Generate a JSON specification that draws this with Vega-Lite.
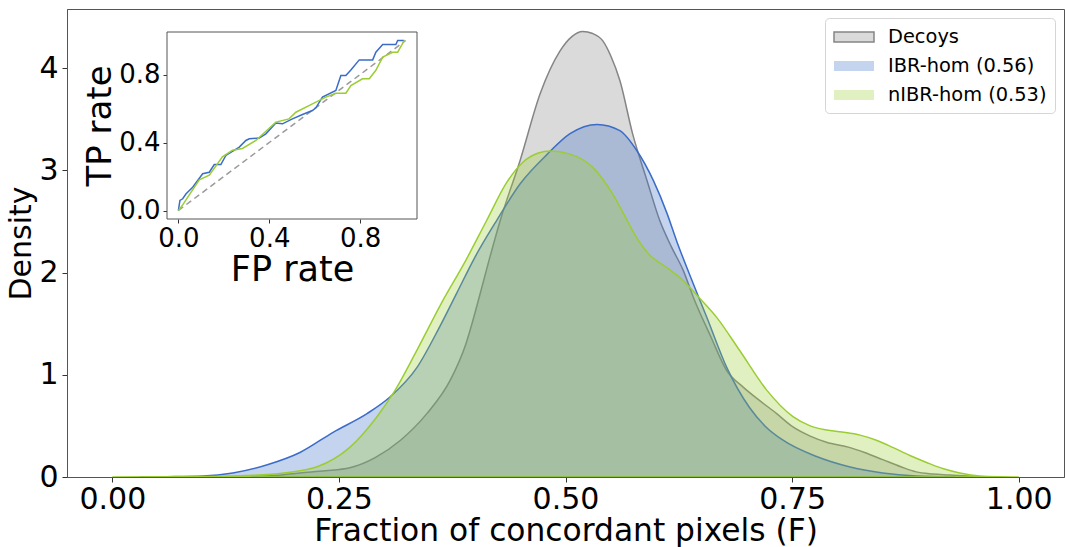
{
  "$schema": "https://vega.github.io/schema/vega-lite/v6.json",
  "width": 997,
  "height": 468,
  "autosize": {"type": "none"},
  "padding": {"left": 67, "top": 9, "right": 1, "bottom": 70},
  "background": "white",
  "config": {
    "view": {"stroke": "#555", "strokeWidth": 1},
    "font": "DejaVu Sans",
    "axis": {"labelFont": "DejaVu Sans", "titleFont": "DejaVu Sans", "grid": false, "labelColor": "black", "titleColor": "black", "titleFontWeight": "normal", "domainColor": "#555", "tickColor": "#333"}
  },
  "datasets": {
    "kde": [
      {"F": 0.10, "density": 0.0, "series": "Decoys"},
      {"F": 0.15, "density": 0.005, "series": "Decoys"},
      {"F": 0.18, "density": 0.015, "series": "Decoys"},
      {"F": 0.207, "density": 0.04, "series": "Decoys"},
      {"F": 0.235, "density": 0.06, "series": "Decoys"},
      {"F": 0.262, "density": 0.09, "series": "Decoys"},
      {"F": 0.29, "density": 0.19, "series": "Decoys"},
      {"F": 0.318, "density": 0.36, "series": "Decoys"},
      {"F": 0.347, "density": 0.62, "series": "Decoys"},
      {"F": 0.373, "density": 0.95, "series": "Decoys"},
      {"F": 0.39, "density": 1.3, "series": "Decoys"},
      {"F": 0.403, "density": 1.7, "series": "Decoys"},
      {"F": 0.415, "density": 2.1, "series": "Decoys"},
      {"F": 0.428, "density": 2.51, "series": "Decoys"},
      {"F": 0.45, "density": 3.1, "series": "Decoys"},
      {"F": 0.472, "density": 3.75, "series": "Decoys"},
      {"F": 0.494, "density": 4.17, "series": "Decoys"},
      {"F": 0.507, "density": 4.31, "series": "Decoys"},
      {"F": 0.519, "density": 4.36, "series": "Decoys"},
      {"F": 0.53, "density": 4.34, "series": "Decoys"},
      {"F": 0.541, "density": 4.27, "series": "Decoys"},
      {"F": 0.55, "density": 4.12, "series": "Decoys"},
      {"F": 0.56, "density": 3.88, "series": "Decoys"},
      {"F": 0.574, "density": 3.36, "series": "Decoys"},
      {"F": 0.59, "density": 2.9, "series": "Decoys"},
      {"F": 0.604, "density": 2.51, "series": "Decoys"},
      {"F": 0.617, "density": 2.25, "series": "Decoys"},
      {"F": 0.63, "density": 2.02, "series": "Decoys"},
      {"F": 0.641, "density": 1.76, "series": "Decoys"},
      {"F": 0.66, "density": 1.38, "series": "Decoys"},
      {"F": 0.678, "density": 1.04, "series": "Decoys"},
      {"F": 0.696, "density": 0.88, "series": "Decoys"},
      {"F": 0.714, "density": 0.75, "series": "Decoys"},
      {"F": 0.733, "density": 0.62, "series": "Decoys"},
      {"F": 0.751, "density": 0.49, "series": "Decoys"},
      {"F": 0.77, "density": 0.4, "series": "Decoys"},
      {"F": 0.788, "density": 0.34, "series": "Decoys"},
      {"F": 0.813, "density": 0.29, "series": "Decoys"},
      {"F": 0.83, "density": 0.24, "series": "Decoys"},
      {"F": 0.85, "density": 0.17, "series": "Decoys"},
      {"F": 0.87, "density": 0.1, "series": "Decoys"},
      {"F": 0.887, "density": 0.05, "series": "Decoys"},
      {"F": 0.905, "density": 0.03, "series": "Decoys"},
      {"F": 0.924, "density": 0.02, "series": "Decoys"},
      {"F": 0.95, "density": 0.005, "series": "Decoys"},
      {"F": 0.98, "density": 0.0, "series": "Decoys"},
      {"F": 0.03, "density": 0.0, "series": "IBR-hom (0.56)"},
      {"F": 0.06, "density": 0.003, "series": "IBR-hom (0.56)"},
      {"F": 0.1, "density": 0.01, "series": "IBR-hom (0.56)"},
      {"F": 0.133, "density": 0.04, "series": "IBR-hom (0.56)"},
      {"F": 0.171, "density": 0.12, "series": "IBR-hom (0.56)"},
      {"F": 0.207, "density": 0.24, "series": "IBR-hom (0.56)"},
      {"F": 0.244, "density": 0.44, "series": "IBR-hom (0.56)"},
      {"F": 0.281, "density": 0.62, "series": "IBR-hom (0.56)"},
      {"F": 0.306, "density": 0.78, "series": "IBR-hom (0.56)"},
      {"F": 0.336, "density": 1.07, "series": "IBR-hom (0.56)"},
      {"F": 0.36, "density": 1.45, "series": "IBR-hom (0.56)"},
      {"F": 0.38, "density": 1.8, "series": "IBR-hom (0.56)"},
      {"F": 0.4, "density": 2.15, "series": "IBR-hom (0.56)"},
      {"F": 0.424, "density": 2.51, "series": "IBR-hom (0.56)"},
      {"F": 0.45, "density": 2.87, "series": "IBR-hom (0.56)"},
      {"F": 0.48, "density": 3.16, "series": "IBR-hom (0.56)"},
      {"F": 0.505, "density": 3.36, "series": "IBR-hom (0.56)"},
      {"F": 0.535, "density": 3.45, "series": "IBR-hom (0.56)"},
      {"F": 0.56, "density": 3.39, "series": "IBR-hom (0.56)"},
      {"F": 0.579, "density": 3.19, "series": "IBR-hom (0.56)"},
      {"F": 0.597, "density": 2.9, "series": "IBR-hom (0.56)"},
      {"F": 0.612, "density": 2.58, "series": "IBR-hom (0.56)"},
      {"F": 0.623, "density": 2.3, "series": "IBR-hom (0.56)"},
      {"F": 0.637, "density": 1.98, "series": "IBR-hom (0.56)"},
      {"F": 0.656, "density": 1.56, "series": "IBR-hom (0.56)"},
      {"F": 0.678, "density": 1.07, "series": "IBR-hom (0.56)"},
      {"F": 0.703, "density": 0.68, "series": "IBR-hom (0.56)"},
      {"F": 0.72, "density": 0.5, "series": "IBR-hom (0.56)"},
      {"F": 0.74, "density": 0.36, "series": "IBR-hom (0.56)"},
      {"F": 0.777, "density": 0.2, "series": "IBR-hom (0.56)"},
      {"F": 0.813, "density": 0.1, "series": "IBR-hom (0.56)"},
      {"F": 0.85, "density": 0.04, "series": "IBR-hom (0.56)"},
      {"F": 0.887, "density": 0.01, "series": "IBR-hom (0.56)"},
      {"F": 0.93, "density": 0.0, "series": "IBR-hom (0.56)"},
      {"F": 0.0, "density": 0.0, "series": "nIBR-hom (0.53)"},
      {"F": 0.05, "density": 0.002, "series": "nIBR-hom (0.53)"},
      {"F": 0.1, "density": 0.005, "series": "nIBR-hom (0.53)"},
      {"F": 0.15, "density": 0.015, "series": "nIBR-hom (0.53)"},
      {"F": 0.189, "density": 0.04, "series": "nIBR-hom (0.53)"},
      {"F": 0.226, "density": 0.1, "series": "nIBR-hom (0.53)"},
      {"F": 0.262, "density": 0.29, "series": "nIBR-hom (0.53)"},
      {"F": 0.292, "density": 0.59, "series": "nIBR-hom (0.53)"},
      {"F": 0.31, "density": 0.82, "series": "nIBR-hom (0.53)"},
      {"F": 0.336, "density": 1.24, "series": "nIBR-hom (0.53)"},
      {"F": 0.363, "density": 1.7, "series": "nIBR-hom (0.53)"},
      {"F": 0.39, "density": 2.12, "series": "nIBR-hom (0.53)"},
      {"F": 0.413, "density": 2.51, "series": "nIBR-hom (0.53)"},
      {"F": 0.435, "density": 2.88, "series": "nIBR-hom (0.53)"},
      {"F": 0.453, "density": 3.08, "series": "nIBR-hom (0.53)"},
      {"F": 0.47, "density": 3.17, "series": "nIBR-hom (0.53)"},
      {"F": 0.483, "density": 3.19, "series": "nIBR-hom (0.53)"},
      {"F": 0.505, "density": 3.16, "series": "nIBR-hom (0.53)"},
      {"F": 0.53, "density": 3.03, "series": "nIBR-hom (0.53)"},
      {"F": 0.552, "density": 2.77, "series": "nIBR-hom (0.53)"},
      {"F": 0.568, "density": 2.51, "series": "nIBR-hom (0.53)"},
      {"F": 0.58, "density": 2.32, "series": "nIBR-hom (0.53)"},
      {"F": 0.593, "density": 2.17, "series": "nIBR-hom (0.53)"},
      {"F": 0.61, "density": 2.06, "series": "nIBR-hom (0.53)"},
      {"F": 0.63, "density": 1.92, "series": "nIBR-hom (0.53)"},
      {"F": 0.648, "density": 1.75, "series": "nIBR-hom (0.53)"},
      {"F": 0.667, "density": 1.56, "series": "nIBR-hom (0.53)"},
      {"F": 0.692, "density": 1.24, "series": "nIBR-hom (0.53)"},
      {"F": 0.722, "density": 0.85, "series": "nIBR-hom (0.53)"},
      {"F": 0.751, "density": 0.59, "series": "nIBR-hom (0.53)"},
      {"F": 0.77, "density": 0.5, "series": "nIBR-hom (0.53)"},
      {"F": 0.788, "density": 0.46, "series": "nIBR-hom (0.53)"},
      {"F": 0.805, "density": 0.44, "series": "nIBR-hom (0.53)"},
      {"F": 0.825, "density": 0.41, "series": "nIBR-hom (0.53)"},
      {"F": 0.843, "density": 0.36, "series": "nIBR-hom (0.53)"},
      {"F": 0.861, "density": 0.29, "series": "nIBR-hom (0.53)"},
      {"F": 0.88, "density": 0.21, "series": "nIBR-hom (0.53)"},
      {"F": 0.899, "density": 0.14, "series": "nIBR-hom (0.53)"},
      {"F": 0.917, "density": 0.08, "series": "nIBR-hom (0.53)"},
      {"F": 0.935, "density": 0.04, "series": "nIBR-hom (0.53)"},
      {"F": 0.957, "density": 0.01, "series": "nIBR-hom (0.53)"},
      {"F": 0.98, "density": 0.002, "series": "nIBR-hom (0.53)"},
      {"F": 1.0, "density": 0.0, "series": "nIBR-hom (0.53)"}
    ],
    "roc": [
      {"fpr": 0.0, "tpr": 0.0, "series": "IBR"},
      {"fpr": 0.007, "tpr": 0.059, "series": "IBR"},
      {"fpr": 0.019, "tpr": 0.069, "series": "IBR"},
      {"fpr": 0.034, "tpr": 0.098, "series": "IBR"},
      {"fpr": 0.063, "tpr": 0.137, "series": "IBR"},
      {"fpr": 0.107, "tpr": 0.216, "series": "IBR"},
      {"fpr": 0.136, "tpr": 0.225, "series": "IBR"},
      {"fpr": 0.158, "tpr": 0.27, "series": "IBR"},
      {"fpr": 0.187, "tpr": 0.27, "series": "IBR"},
      {"fpr": 0.209, "tpr": 0.324, "series": "IBR"},
      {"fpr": 0.268, "tpr": 0.373, "series": "IBR"},
      {"fpr": 0.297, "tpr": 0.412, "series": "IBR"},
      {"fpr": 0.312, "tpr": 0.422, "series": "IBR"},
      {"fpr": 0.356, "tpr": 0.426, "series": "IBR"},
      {"fpr": 0.385, "tpr": 0.451, "series": "IBR"},
      {"fpr": 0.429, "tpr": 0.515, "series": "IBR"},
      {"fpr": 0.458, "tpr": 0.51, "series": "IBR"},
      {"fpr": 0.502, "tpr": 0.539, "series": "IBR"},
      {"fpr": 0.546, "tpr": 0.565, "series": "IBR"},
      {"fpr": 0.59, "tpr": 0.588, "series": "IBR"},
      {"fpr": 0.605, "tpr": 0.604, "series": "IBR"},
      {"fpr": 0.634, "tpr": 0.667, "series": "IBR"},
      {"fpr": 0.693, "tpr": 0.706, "series": "IBR"},
      {"fpr": 0.715, "tpr": 0.794, "series": "IBR"},
      {"fpr": 0.737, "tpr": 0.794, "series": "IBR"},
      {"fpr": 0.759, "tpr": 0.827, "series": "IBR"},
      {"fpr": 0.796, "tpr": 0.886, "series": "IBR"},
      {"fpr": 0.855, "tpr": 0.886, "series": "IBR"},
      {"fpr": 0.869, "tpr": 0.931, "series": "IBR"},
      {"fpr": 0.899, "tpr": 0.976, "series": "IBR"},
      {"fpr": 0.957, "tpr": 0.976, "series": "IBR"},
      {"fpr": 0.965, "tpr": 1.0, "series": "IBR"},
      {"fpr": 0.994, "tpr": 1.0, "series": "IBR"},
      {"fpr": 0.0, "tpr": 0.0, "series": "nIBR"},
      {"fpr": 0.019, "tpr": 0.033, "series": "nIBR"},
      {"fpr": 0.048, "tpr": 0.092, "series": "nIBR"},
      {"fpr": 0.092, "tpr": 0.18, "series": "nIBR"},
      {"fpr": 0.136, "tpr": 0.208, "series": "nIBR"},
      {"fpr": 0.194, "tpr": 0.316, "series": "nIBR"},
      {"fpr": 0.238, "tpr": 0.355, "series": "nIBR"},
      {"fpr": 0.282, "tpr": 0.365, "series": "nIBR"},
      {"fpr": 0.341, "tpr": 0.412, "series": "nIBR"},
      {"fpr": 0.429, "tpr": 0.52, "series": "nIBR"},
      {"fpr": 0.487, "tpr": 0.539, "series": "nIBR"},
      {"fpr": 0.517, "tpr": 0.578, "series": "nIBR"},
      {"fpr": 0.59, "tpr": 0.627, "series": "nIBR"},
      {"fpr": 0.649, "tpr": 0.667, "series": "nIBR"},
      {"fpr": 0.693, "tpr": 0.69, "series": "nIBR"},
      {"fpr": 0.737, "tpr": 0.69, "series": "nIBR"},
      {"fpr": 0.759, "tpr": 0.735, "series": "nIBR"},
      {"fpr": 0.81, "tpr": 0.775, "series": "nIBR"},
      {"fpr": 0.84, "tpr": 0.775, "series": "nIBR"},
      {"fpr": 0.869, "tpr": 0.825, "series": "nIBR"},
      {"fpr": 0.899, "tpr": 0.902, "series": "nIBR"},
      {"fpr": 0.943, "tpr": 0.931, "series": "nIBR"},
      {"fpr": 0.965, "tpr": 0.931, "series": "nIBR"},
      {"fpr": 0.994, "tpr": 1.0, "series": "nIBR"}
    ]
  },
  "layer": [
    {
      "data": {"name": "kde"},
      "mark": {"type": "area", "fillOpacity": 0.3, "strokeWidth": 1.5, "interpolate": "monotone"},
      "encoding": {
        "x": {"field": "F", "type": "quantitative",
          "scale": {"domain": [-0.05, 1.05], "nice": false, "zero": false},
          "axis": {"title": "Fraction of concordant pixels (F)", "values": [0, 0.25, 0.5, 0.75, 1], "format": ".2f", "labelFontSize": 30, "titleFontSize": 31.3, "tickSize": 5, "labelPadding": 2, "titlePadding": 1, "zindex": 1}},
        "y": {"field": "density", "type": "quantitative", "stack": null,
          "scale": {"domain": [0, 4.58], "nice": false, "zero": false},
          "axis": {"title": "Density", "values": [0, 1, 2, 3, 4], "labelFontSize": 30, "titleFontSize": 30, "tickSize": 5, "labelPadding": 4, "titlePadding": 2, "zindex": 1}},
        "color": {"field": "series", "type": "nominal",
          "scale": {"domain": ["Decoys", "IBR-hom (0.56)", "nIBR-hom (0.53)"], "range": ["#858585", "#3a6cc8", "#9acd32"]},
          "legend": {"title": null, "orient": "top-right", "offset": 9, "labelFont": "DejaVu Sans", "labelFontSize": 19.4, "labelColor": "black",
            "symbolType": "M-1,-0.5H3V0.5H-1Z", "symbolSize": 400, "labelOffset": 33, "rowPadding": 8, "padding": 8,
            "strokeColor": "#d5d5d5", "fillColor": "white", "cornerRadius": 4,
            "encode": {"symbols": {"update": {"fillOpacity": {"value": 0.3}, "opacity": {"value": 1}, "strokeWidth": {"value": 1.5}, "strokeOpacity": {"signal": "datum.value === 'Decoys' ? 1 : 0"}}}}}},
        "stroke": {"field": "series", "type": "nominal",
          "scale": {"domain": ["Decoys", "IBR-hom (0.56)", "nIBR-hom (0.53)"], "range": ["#858585", "#3a6cc8", "#9acd32"]},
          "legend": null}
      }
    },
    {
      "layer": [
        {
          "data": {"values": [{}]},
          "mark": {"type": "rect", "fill": "white", "stroke": "#555", "strokeWidth": 1},
          "encoding": {
            "x": {"datum": -0.05, "type": "quantitative",
              "scale": {"domain": [-0.05, 1.05], "range": [100, 350], "nice": false, "zero": false},
              "axis": {"orient": "bottom", "offset": -258, "values": [0, 0.4, 0.8], "format": ".1f", "labelFontSize": 26, "title": "FP rate", "titleFontSize": 35, "tickSize": 4, "labelPadding": 2, "titlePadding": 1, "domain": false}},
            "x2": {"datum": 1.05},
            "y": {"datum": -0.05, "type": "quantitative",
              "scale": {"domain": [-0.05, 1.05], "range": [210, 23], "nice": false, "zero": false},
              "axis": {"orient": "left", "offset": -100, "values": [0, 0.4, 0.8], "format": ".1f", "labelFontSize": 26, "title": "TP rate", "titleFontSize": 34, "tickSize": 4, "labelPadding": 3, "titlePadding": 1, "domain": false}},
            "y2": {"datum": 1.05}
          }
        },
        {
          "data": {"values": [{}]},
          "mark": {"type": "rule", "color": "#9a9a9a", "strokeWidth": 1.5, "strokeDash": [6, 4]},
          "encoding": {
            "x": {"datum": 0, "type": "quantitative"},
            "x2": {"datum": 1},
            "y": {"datum": 0, "type": "quantitative"},
            "y2": {"datum": 1}
          }
        },
        {
          "data": {"name": "roc"},
          "transform": [{"filter": "datum.series === 'IBR'"}],
          "mark": {"type": "line", "color": "#3a6cc8", "strokeWidth": 1.5},
          "encoding": {
            "x": {"field": "fpr", "type": "quantitative"},
            "y": {"field": "tpr", "type": "quantitative"}
          }
        },
        {
          "data": {"name": "roc"},
          "transform": [{"filter": "datum.series === 'nIBR'"}],
          "mark": {"type": "line", "color": "#9acd32", "strokeWidth": 1.5},
          "encoding": {
            "x": {"field": "fpr", "type": "quantitative"},
            "y": {"field": "tpr", "type": "quantitative"}
          }
        }
      ]
    }
  ],
  "resolve": {"scale": {"x": "independent", "y": "independent"}, "axis": {"x": "independent", "y": "independent"}}
}
